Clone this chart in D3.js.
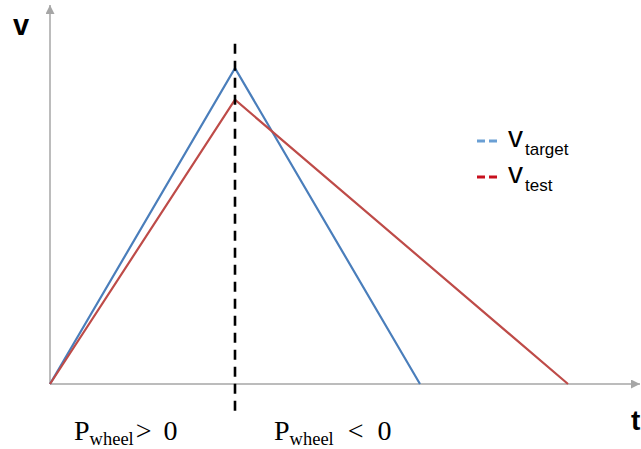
<!DOCTYPE html>
<html><head><meta charset="utf-8">
<script src="https://cdn.jsdelivr.net/npm/d3@7"></script>
<style>body{margin:0;background:#fff}svg{display:block}</style>
</head><body>
<svg id="c" width="641" height="449"></svg>
<script>
const timePoints = ["start", "switch", "stop"];
const targetT = [0, 5, 10];
const targetV = [0, 10, 0];
const testT = [0, 5, 14];
const testV = [0, 9, 0];
const switchT = 5;
const seriesNames = ["target", "test"];
const regionOps = [">", "<"];
const regionVals = ["0", "0"];

const svg = d3.select("#c");
const x = d3.scaleLinear().domain([0, 16]).range([50, 642]);
const y = d3.scaleLinear().domain([0, 12]).range([384, 5]);

const defs = svg.append("defs");
defs.append("marker").attr("id", "arr").attr("viewBox", "0 0 10 10")
  .attr("refX", 10).attr("refY", 5).attr("markerWidth", 9).attr("markerHeight", 9)
  .attr("markerUnits", "userSpaceOnUse").attr("orient", "auto")
  .append("path").attr("d", "M0,0L10,5L0,10Z").attr("fill", "#a6a6a6");

// axes
svg.append("line").attr("x1", x(0)).attr("y1", y(0)).attr("x2", 640).attr("y2", y(0))
  .attr("stroke", "#a6a6a6").attr("stroke-width", 1.5).attr("marker-end", "url(#arr)");
svg.append("line").attr("x1", x(0)).attr("y1", y(0)).attr("x2", x(0)).attr("y2", y(12))
  .attr("stroke", "#a6a6a6").attr("stroke-width", 1.5).attr("marker-end", "url(#arr)");

const line = d3.line().x(d => x(d[0])).y(d => y(d[1]));
const colors = {target: "#4a7ebb", test: "#be4b48"};
svg.append("path").datum(targetT.map((t, i) => [t, targetV[i]]))
  .attr("d", line).attr("fill", "none").attr("stroke", colors.target).attr("stroke-width", 2.2);
svg.append("path").datum(testT.map((t, i) => [t, testV[i]]))
  .attr("d", line).attr("fill", "none").attr("stroke", colors.test).attr("stroke-width", 2.2);

// dashed switch line
svg.append("line").attr("x1", x(switchT)).attr("x2", x(switchT))
  .attr("y1", y(10.77)).attr("y2", y(-1.07))
  .attr("stroke", "#000").attr("stroke-width", 2.6).attr("stroke-dasharray", "10,7");

// axis labels
svg.append("text").attr("x", 13).attr("y", 35).text("v")
  .attr("font-family", "Liberation Sans, Arial, sans-serif").attr("font-weight", "bold").attr("font-size", 29);
svg.append("text").attr("x", 631).attr("y", 430).text("t")
  .attr("font-family", "Liberation Sans, Arial, sans-serif").attr("font-weight", "bold").attr("font-size", 28);

// legend
const legColors = {target: "#6a9fd4", test: "#c8101e"};
const leg = svg.append("g");
seriesNames.forEach((n, i) => {
  const yy = 141 + i * 36;
  leg.append("line").attr("x1", 477).attr("x2", 497).attr("y1", yy).attr("y2", yy)
    .attr("stroke", legColors[n]).attr("stroke-width", 3).attr("stroke-dasharray", "8,4");
  const t = leg.append("text").attr("x", 508).attr("y", yy + 6)
    .attr("font-family", "Liberation Sans, Arial, sans-serif").attr("font-size", 30).attr("fill", "#000");
  t.append("tspan").text("v");
  t.append("tspan").attr("font-size", 17).attr("dy", 8).attr("dx", 2).text(n);
});

// region labels
[[74, 0, 2, 12], [274, 1, 14, 14]].forEach(([px, i, gap1, gap2]) => {
  const t = svg.append("text").attr("x", px).attr("y", 440)
    .attr("font-family", "Liberation Serif, Times New Roman, serif").attr("font-size", 28).attr("fill", "#000");
  t.append("tspan").text("P");
  t.append("tspan").attr("font-size", 18.5).attr("dy", 5).text("wheel");
  t.append("tspan").attr("dy", -5).attr("dx", gap1).text(regionOps[i]);
  t.append("tspan").attr("dx", gap2).text(regionVals[i]);
});
</script>
</body></html>
